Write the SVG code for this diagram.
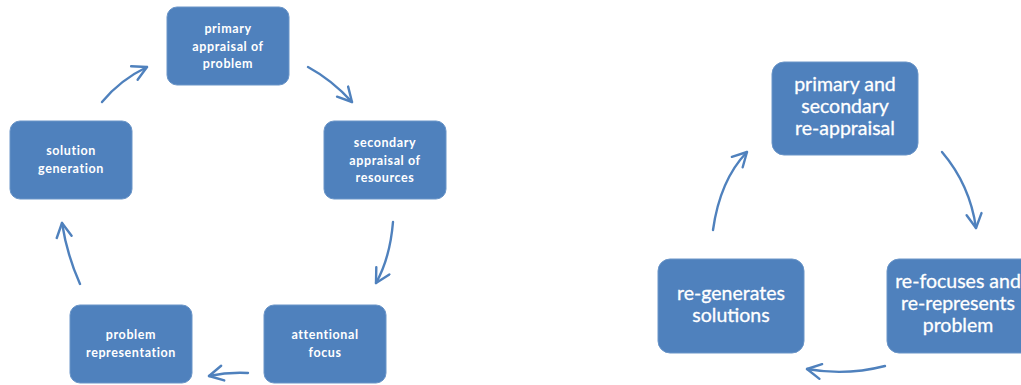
<svg xmlns="http://www.w3.org/2000/svg" width="1021" height="385" viewBox="0 0 1021 385">
<defs>
<style>
.box{fill:#4F81BD;stroke:#6A95C8;stroke-width:1}
.t1{font-family:Lato,"Open Sans",sans-serif;font-size:12.5px;font-weight:bold;fill:#fff;text-anchor:middle;letter-spacing:0.6px}
.t2{font-family:Lato,"Open Sans",sans-serif;font-size:19.5px;fill:#fff;stroke:#fff;stroke-width:0.3;text-anchor:middle}
.c{fill:none;stroke:#4F81BD;stroke-width:2.4;stroke-linecap:round}
</style>
<marker id="ah" viewBox="0 0 18 18" refX="16" refY="9" markerWidth="18" markerHeight="18" markerUnits="userSpaceOnUse" orient="auto">
<path d="M2,1.5 L16,9 L2,16.5" fill="none" stroke="#4F81BD" stroke-width="2.4" stroke-linecap="round" stroke-linejoin="round"/>
</marker>
</defs>
<rect width="1021" height="385" fill="#fff"/>
<g id="connectors">
<path class="c" marker-end="url(#ah)" d="M102,102 Q120,80 147,67"/>
<path class="c" marker-end="url(#ah)" d="M308,67 Q332,80 352,102"/>
<path class="c" marker-end="url(#ah)" d="M393,222 Q390,258 376,283"/>
<path class="c" marker-end="url(#ah)" d="M248,373 Q228,372 209,376"/>
<path class="c" marker-end="url(#ah)" d="M80,284 Q67,255 62,223"/>
<path class="c" marker-end="url(#ah)" d="M713,230 Q720,180 747,152"/>
<path class="c" marker-end="url(#ah)" d="M942,152 Q970,185 976,228"/>
<path class="c" marker-end="url(#ah)" d="M885,366 Q846,376 807,369"/>
</g>
<g id="n1"><rect class="box" x="167" y="7" width="122" height="78" rx="10"/>
<text class="t1" x="228" y="33">primary</text><text class="t1" x="228" y="51">appraisal of</text><text class="t1" x="228" y="68">problem</text></g>
<g id="n2"><rect class="box" x="324" y="121" width="122" height="78" rx="10"/>
<text class="t1" x="385" y="147">secondary</text><text class="t1" x="385" y="165">appraisal of</text><text class="t1" x="385" y="182">resources</text></g>
<g id="n3"><rect class="box" x="264" y="305" width="122" height="78" rx="10"/>
<text class="t1" x="325" y="339">attentional</text><text class="t1" x="325" y="357">focus</text></g>
<g id="n4"><rect class="box" x="70" y="305" width="122" height="78" rx="10"/>
<text class="t1" x="131" y="339">problem</text><text class="t1" x="131" y="357">representation</text></g>
<g id="n5"><rect class="box" x="10" y="121" width="122" height="78" rx="10"/>
<text class="t1" x="71" y="155">solution</text><text class="t1" x="71" y="173">generation</text></g>
<g id="n6"><rect class="box" x="772" y="62" width="146" height="93" rx="12"/>
<text class="t2" x="845" y="91">primary and</text><text class="t2" x="845" y="113">secondary</text><text class="t2" x="845" y="135">re-appraisal</text></g>
<g id="n7"><rect class="box" x="887" y="259" width="146" height="94" rx="12"/>
<text class="t2" x="958" y="288">re-focuses and</text><text class="t2" x="958" y="310">re-represents</text><text class="t2" x="958" y="332">problem</text></g>
<g id="n8"><rect class="box" x="658" y="259" width="146" height="94" rx="12"/>
<text class="t2" x="731" y="300">re-generates</text><text class="t2" x="731" y="322">solutions</text></g>
</svg>
